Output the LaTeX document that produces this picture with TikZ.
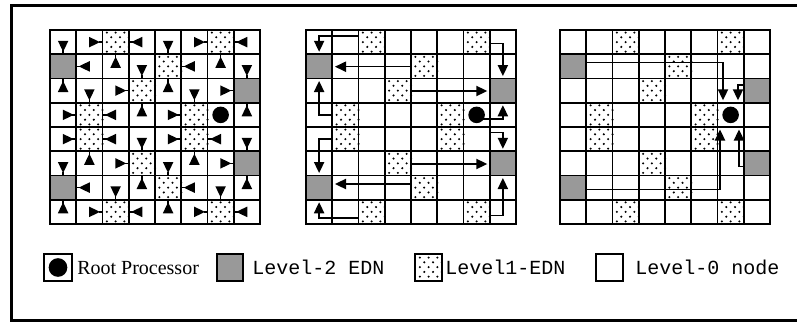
\documentclass[tikz,border=0pt]{standalone}
\usepackage{fontspec}
\setmainfont{Liberation Serif}
\newfontfamily\monofont{Liberation Mono}
\definecolor{edngray}{RGB}{153,153,153}
\newcommand\triD[2]{\fill ({#1},{#2}) -- ++(-5.3,-11) -- ++(10.6,0) -- cycle;}
\newcommand\triU[2]{\fill ({#1},{#2}) -- ++(-5.3,11) -- ++(10.6,0) -- cycle;}
\newcommand\triR[2]{\fill ({#1},{#2}) -- ++(-11,-5.3) -- ++(0,10.6) -- cycle;}
\newcommand\triL[2]{\fill ({#1},{#2}) -- ++(11,-5.3) -- ++(0,10.6) -- cycle;}
\newcommand\dotcell[2]{% x, y of upper-left corner
  \foreach \k in {0,...,4}{%
    \pgfmathsetmacro\off{mod(\k,2)*4.375}%
    \foreach \j in {0,1,2}{%
      \fill ({#1+4.375+\off+\j*8.75},{#2+2.6+\k*4.76}) circle (0.85pt);}}}
\newcommand\edngrid[1]{%
  \foreach \r/\c in {0/2,0/6,1/4,2/3,3/1,3/5,4/1,4/5,5/3,6/4,7/2,7/6}{%
    \dotcell{#1+\c*26.25}{30+\r*24.25}}
  \foreach \r/\c in {1/0,2/7,5/7,6/0}{%
    \fill[edngray] ({#1+\c*26.25},{30+\r*24.25}) rectangle ++(26.25,24.25);}
  \foreach \i in {1,...,7}{%
    \draw[gridline] ({#1+\i*26.25},30) -- ++(0,194);
    \draw[gridline] (#1,{30+\i*24.25}) -- ++(210,0);}
  \draw[gridline] (#1,30) rectangle ++(210,194);
}
\begin{document}
\begin{tikzpicture}[x=0.75pt,y=-0.75pt,
  gridline/.style={line width=1.35pt},
  conn/.style={line width=1.1pt},
  framel/.style={line width=2.2pt},
  legendbox/.style={draw,line width=1.3pt},
  serifl/.style={anchor=base west,inner sep=0pt,font=\fontsize{15pt}{18pt}\selectfont},
  monol/.style={anchor=base west,inner sep=0pt,font=\monofont\fontsize{15pt}{18pt}\selectfont}]
\useasboundingbox (0,0) rectangle (797,322);
% frame
\draw[framel] (797,5.7) -- (11.5,5.7) -- (11.5,320.5) -- (797,320.5);

% ---------- grid 1 ----------
\edngrid{50}
\foreach \r/\c in {0/0,0/4,1/3,1/7,2/1,2/5,4/3,4/7,5/0,5/4,6/2,6/6}{%
  \draw[conn] ({50+(\c+0.5)*26.25},{30+(\r+1)*24.25}) -- ++(0,-4);
  \triD{50+(\c+0.5)*26.25}{30+(\r+1)*24.25-2.5}}
\foreach \r/\c in {1/2,1/6,2/0,2/4,3/3,3/7,5/1,5/5,6/3,6/7,7/0,7/4}{%
  \draw[conn] ({50+(\c+0.5)*26.25},{30+\r*24.25}) -- ++(0,4);
  \triU{50+(\c+0.5)*26.25}{30+\r*24.25+2.5}}
\foreach \r/\c in {0/1,0/5,2/2,2/6,3/0,3/4,4/0,4/4,5/2,5/6,7/1,7/5}{%
  \draw[conn] ({50+(\c+1)*26.25},{30+(\r+0.5)*24.25}) -- ++(-4,0);
  \triR{50+(\c+1)*26.25-2.5}{30+(\r+0.5)*24.25}}
\foreach \r/\c in {0/3,0/7,1/1,1/5,3/2,4/2,4/6,6/1,6/5,7/3,7/7}{%
  \draw[conn] ({50+\c*26.25},{30+(\r+0.5)*24.25}) -- ++(4,0);
  \triL{50+\c*26.25+2.5}{30+(\r+0.5)*24.25}}
\fill (63.125+6*26.25,114.875) circle (6.2pt);

% ---------- grid 2 ----------
\edngrid{306}
\begin{scope}[conn]
\draw (358.5,36) -- (319.125,36) -- (319.125,48);
\draw (489.75,43.3) -- (502.875,43.3) -- (502.875,72);
\draw (411,66.7) -- (339,66.7);
\draw (411,91) -- (483,91);
\draw (332.25,115) -- (319.125,115) -- (319.125,85);
\draw (476.625,119) -- (502.875,119) -- (502.875,109);
\draw (489.75,132.7) -- (502.875,132.7) -- (502.875,145);
\draw (332.25,139) -- (319.125,139) -- (319.125,169);
\draw (411,164) -- (483,164);
\draw (411,184) -- (339,184);
\draw (358.5,218) -- (319.125,218) -- (319.125,206);
\draw (489.75,215.7) -- (502.875,215.7) -- (502.875,182);
\end{scope}
\triD{319.125}{51.75}
\triD{502.875}{76}
\triL{335}{66.7}
\triR{487.25}{91}
\triU{319.125}{81}
\triU{502.875}{105.25}
\triD{502.875}{148.75}
\triD{319.125}{173}
\triR{487.25}{164}
\triL{335}{184}
\triU{319.125}{202.25}
\triU{502.875}{178}
\fill (476.625,114.875) circle (6.2pt);

% ---------- grid 3 ----------
\edngrid{560}
\begin{scope}[conn]
\draw (586.25,62.7) -- (723,62.7) -- (723,96);
\draw (743.75,85) -- (738,85) -- (738,96);
\draw (586.25,189.3) -- (720,189.3) -- (720,133.5);
\draw (743.75,166.7) -- (739,166.7) -- (739,133.5);
\end{scope}
\triD{723}{100.25}
\triD{738}{100.25}
\triU{720}{129.5}
\triU{739}{129.5}
\fill (730.625,114.875) circle (6.2pt);

% ---------- legend ----------
\draw[legendbox] (44,254) rectangle (72,281);
\fill (58,267.5) circle (7pt);
\node[serifl] (rootlbl) at (77,274.5) {Root Processor};
\draw[legendbox,fill=edngray] (217,254) rectangle (243,281);
\node[monol] (lvltwolbl) at (252,274) {Level-2 EDN};
\dotcell{415.5}{255}
\draw[legendbox] (415,254) rectangle (442,281);
\node[monol] (lvlonelbl) at (445,274) {Level1-EDN};
\draw[legendbox] (596,254) rectangle (623,281);
\node[monol] (lvlzerolbl) at (635,274) {Level-0 node};
\end{tikzpicture}
\end{document}
